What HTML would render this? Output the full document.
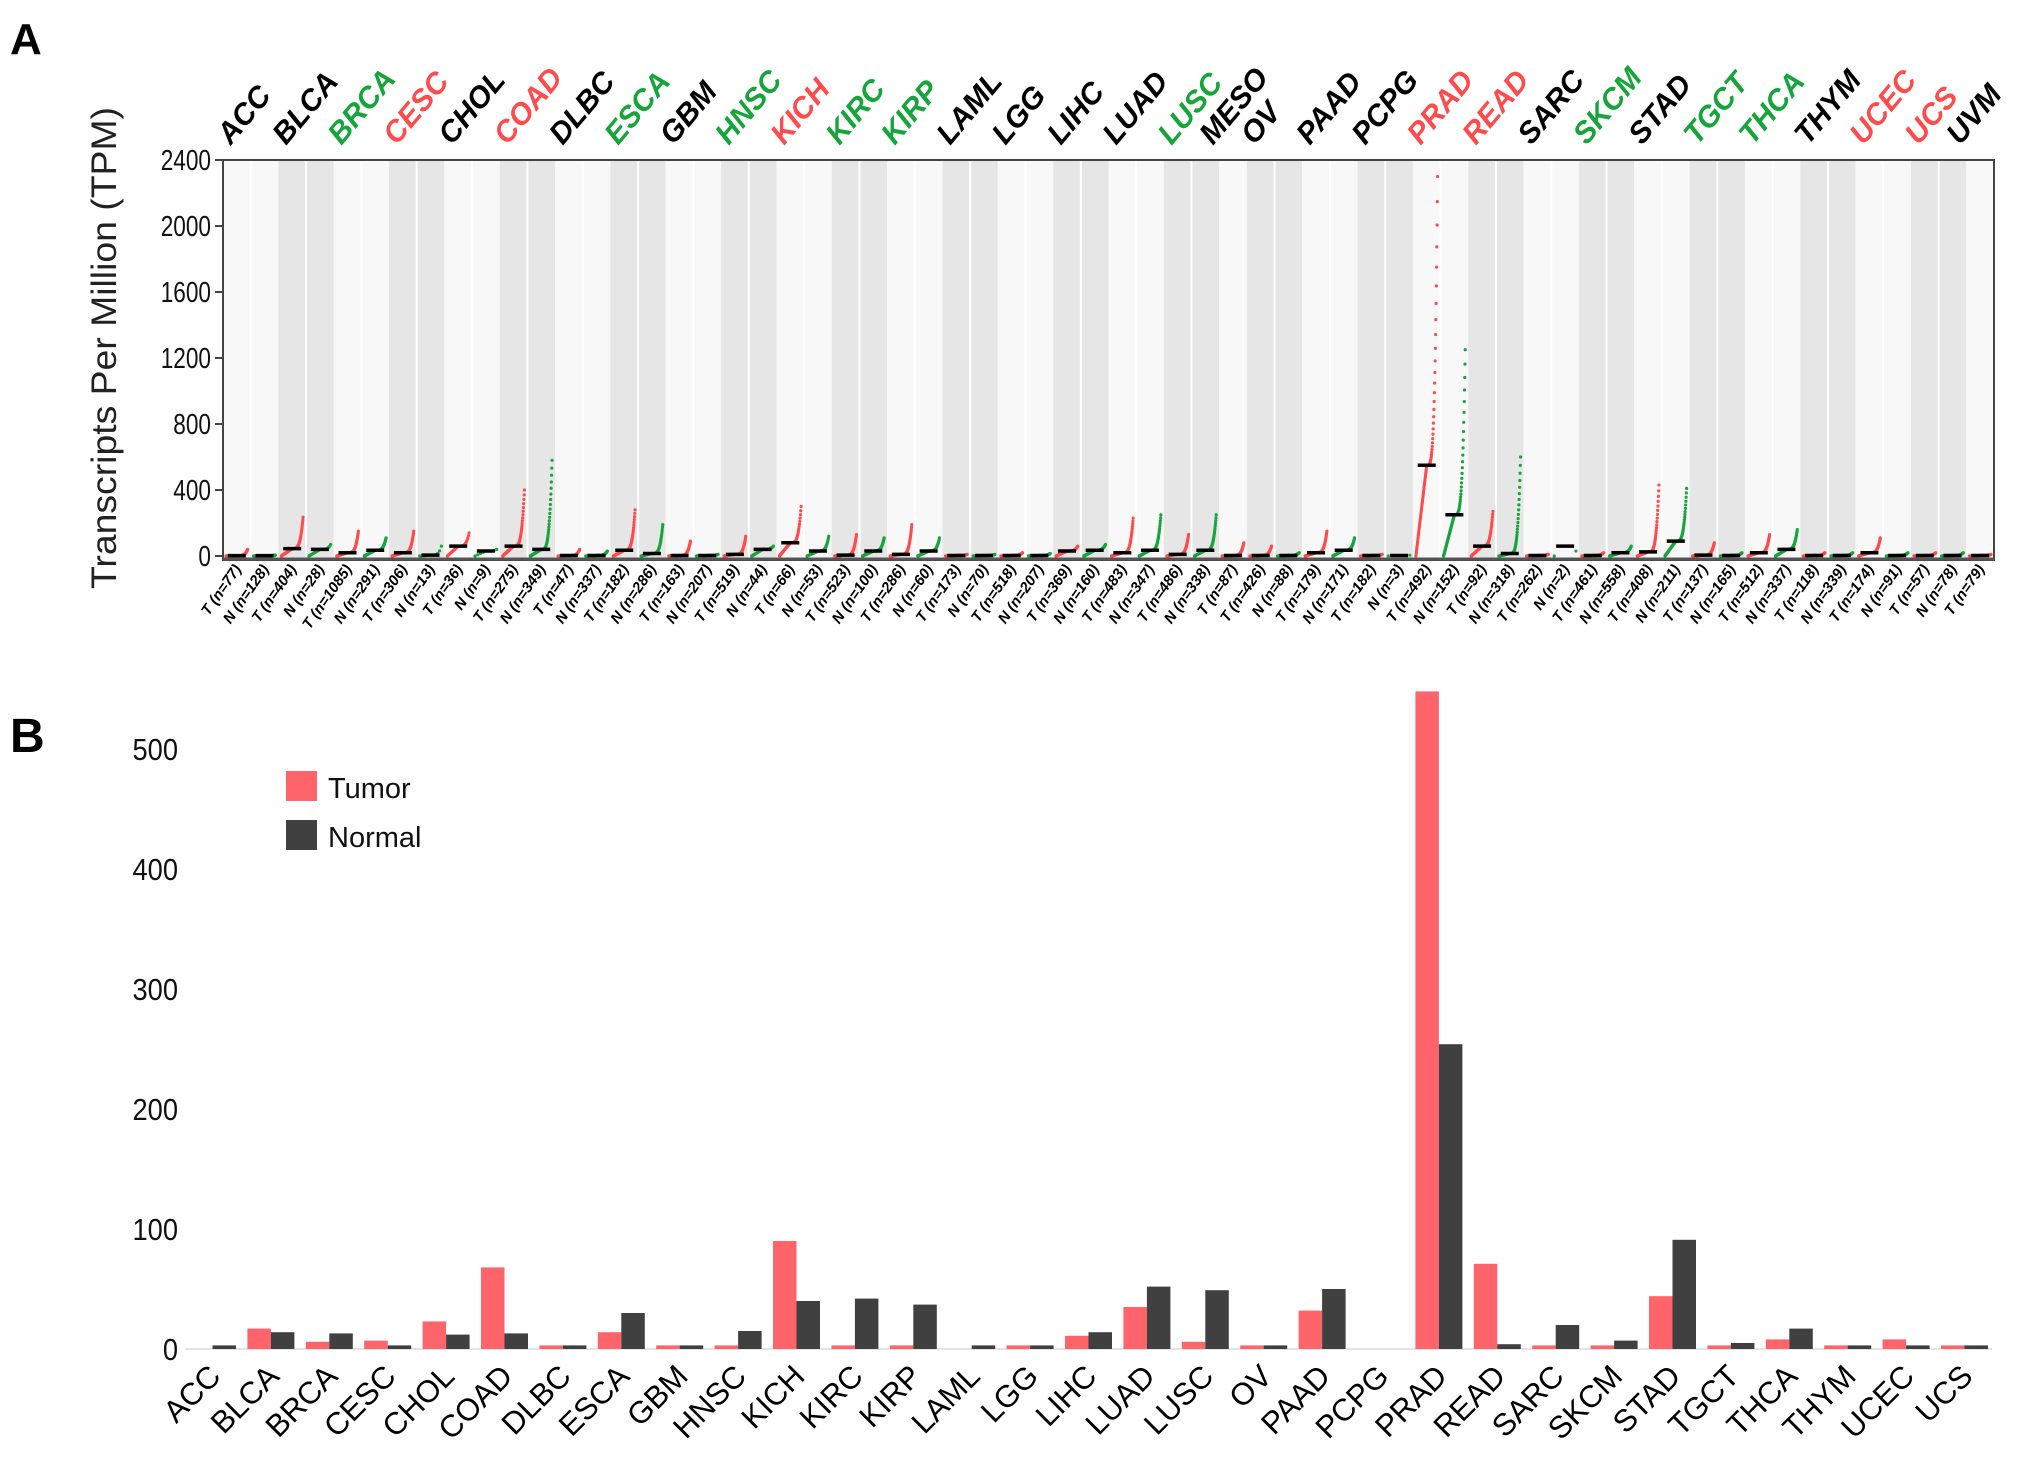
<!DOCTYPE html>
<html><head><meta charset="utf-8"><style>
html,body{margin:0;padding:0;background:#fff;}
svg{display:block;font-family:"Liberation Sans",sans-serif;}
</style></head><body>
<svg id="fig" width="2031" height="1468" viewBox="0 0 2031 1468" xmlns="http://www.w3.org/2000/svg">
<text x="10" y="54" font-size="44" font-weight="bold">A</text>
<text x="10" y="752" font-size="48" font-weight="bold">B</text>
<g id="pa"></g>
<g id="pb"></g>
</svg>
<script>
// ---------- Panel A data ----------
const cancersA = ["ACC","BLCA","BRCA","CESC","CHOL","COAD","DLBC","ESCA","GBM","HNSC","KICH","KIRC","KIRP","LAML","LGG","LIHC","LUAD","LUSC","MESO","OV","PAAD","PCPG","PRAD","READ","SARC","SKCM","STAD","TGCT","THCA","THYM","UCEC","UCS","UVM"];
const labelColorsA = ["k","k","g","r","k","r","k","g","k","g","r","g","g","k","k","k","k","g","k","k","k","k","r","r","k","g","k","g","g","k","r","r","k"];
const tumorN = [77,404,1085,306,36,275,47,182,163,519,66,523,286,173,518,369,483,486,87,426,179,182,492,92,262,461,408,137,512,118,174,57,79];
const normalN = [128,28,291,13,9,349,337,286,207,44,53,100,60,70,207,160,347,338,null,88,171,3,152,318,2,558,211,165,337,339,91,78,null];
const tumorMedian = [2,45,20,20,60,60,3,35,3,10,80,5,10,3,3,30,20,10,3,3,20,3,550,60,3,3,25,5,20,3,20,3,3];
const tumorMax = [40,235,150,150,140,400,40,280,90,120,300,130,190,10,20,60,230,130,80,60,150,10,2300,270,10,20,430,80,130,20,110,20,10];
const normalMedian = [2,40,35,5,30,40,3,15,3,40,30,30,30,3,3,35,35,35,null,3,35,3,250,15,60,20,90,3,40,3,3,3,null];
const normalMax = [5,70,110,60,40,580,30,190,10,60,120,110,110,10,15,70,250,250,null,20,110,5,1250,600,30,60,410,20,160,20,20,20,null];
const ticksA = [0,400,800,1200,1600,2000,2400];

// ---------- Panel B data ----------
const cancersB = ["ACC","BLCA","BRCA","CESC","CHOL","COAD","DLBC","ESCA","GBM","HNSC","KICH","KIRC","KIRP","LAML","LGG","LIHC","LUAD","LUSC","OV","PAAD","PCPG","PRAD","READ","SARC","SKCM","STAD","TGCT","THCA","THYM","UCEC","UCS"];
const tumorB = [0,17,6,7,23,68,3,14,3,3,90,3,3,0,3,11,35,6,3,32,0,548,71,3,3,44,3,8,3,8,3];
const normalB = [3,14,13,3,12,13,3,30,3,15,40,42,37,3,3,14,52,49,3,50,0,254,4,20,7,91,5,17,3,3,3];
const ticksB = [0,100,200,300,400,500];

const NS="http://www.w3.org/2000/svg";
function mk(tag,attrs,parent){const e=document.createElementNS(NS,tag);for(const k in attrs)e.setAttribute(k,attrs[k]);parent.appendChild(e);return e;}
const COL={r:"#ff4b4b",g:"#16a53a",k:"#000"};

// ---------- Panel A ----------
(function(){
const g=document.getElementById('pa');
const L=223,R=1994,T=160,Y0=556,B=560;
const y=v=>Y0-(v/2400)*(Y0-T);
const cols=[];
cancersA.forEach((c,i)=>{cols.push({c:i,t:'T'}); if(normalN[i]!==null)cols.push({c:i,t:'N'});});
const cw=(R-L)/cols.length;
let idx=0;
cancersA.forEach((c,i)=>{
  const n=normalN[i]!==null?2:1;
  const band=mk('rect',{x:L+idx*cw,y:T,width:n*cw,height:B-T,fill:i%2?"#e6e6e6":"#f8f8f8"},g);
  
  
  if(n===2){const sep=mk('line',{x1:L+(idx+1)*cw,x2:L+(idx+1)*cw,y1:T,y2:B,stroke:"#fff","stroke-width":2},g);
    }
  const cx=L+(idx+n/2)*cw;
  const lab=mk('text',{x:cx-20,y:146,transform:`rotate(-50 ${cx-20} 146)`,"font-size":30,"font-weight":"bold","font-style":"italic",fill:COL[labelColorsA[i]]},g);
  lab.textContent=c;
  
  
  idx+=n;
});
cols.forEach((col,j)=>{
  const i=col.c, isT=col.t==='T';
  const n=isT?tumorN[i]:normalN[i], med=isT?tumorMedian[i]:normalMedian[i], mx=isT?tumorMax[i]:normalMax[i];
  const x0=L+j*cw+3, w=cw-6;
  const np=Math.min(n,90);
  const pts=mk('g',{fill:isT?COL.r:COL.g},g);
  
  
  for(let k=0;k<np;k++){
    const q=np>1?k/(np-1):0.5;
    const v=q<0.5?med*q*2:med+(mx-med)*Math.pow((q-0.5)/0.5,4);
    mk('circle',{cx:x0+q*w,cy:y(v),r:1.6},pts);
  }
  const bar=mk('line',{x1:L+j*cw+cw/2-9,x2:L+j*cw+cw/2+9,y1:y(med),y2:y(med),stroke:"#000","stroke-width":3.5},g);
  
  
  const ax=L+j*cw+cw/2+5, ay=569;
  const t=mk('text',{x:ax,y:ay,transform:`rotate(-55 ${ax} ${ay})`,"text-anchor":"end","font-size":15,"font-weight":"bold","font-style":"italic",fill:"#000"},g);
  t.textContent=`${col.t} (n=${n})`;
  
  
});
const frame=mk('rect',{x:L,y:T,width:R-L,height:B-T,fill:"none",stroke:"#444","stroke-width":2},g);

const zl=mk('line',{x1:L,x2:R,y1:B-1,y2:B-1,stroke:"#555","stroke-width":3},g);

ticksA.forEach(v=>{
  const tk=mk('line',{x1:L-8,x2:L,y1:y(v),y2:y(v),stroke:"#444","stroke-width":2},g);
  
  const tl=mk('text',{x:L-12,y:y(v)+10,"text-anchor":"end","font-size":29,fill:"#111",transform:`scale(0.78 1)`,"transform-origin":`${L-12} ${y(v)}`},g);
  tl.textContent=v;
  
});
const yt=mk('text',{x:116,y:348,transform:"rotate(-90 116 348)","text-anchor":"middle","font-size":35,fill:"#222",textLength:482,lengthAdjust:"spacingAndGlyphs"},g);
yt.textContent="Transcripts Per Million (TPM)";

})();

// ---------- Panel B ----------
(function(){
const g=document.getElementById('pb');
const Y0=1349, per100=120, X0=189, pitch=58.4, bw=23.5;
const y=v=>Y0-v*per100/100;
const base=mk('line',{x1:185,x2:1992,y1:Y0,y2:Y0,stroke:"#e4e4e4","stroke-width":2},g);

ticksB.forEach(v=>{
  const tl=mk('text',{x:178,y:y(v)+11,"text-anchor":"end","font-size":31,fill:"#111",transform:"scale(0.88 1)","transform-origin":`178 ${y(v)}`},g);
  tl.textContent=v;
  
});
cancersB.forEach((c,i)=>{
  const x=X0+i*pitch;
  if(tumorB[i]>0){const r=mk('rect',{x:x,y:y(tumorB[i]),width:bw,height:Y0-y(tumorB[i]),fill:"#fe6469"},g);
    }
  if(normalB[i]>0){const r=mk('rect',{x:x+bw,y:y(normalB[i]),width:bw,height:Y0-y(normalB[i]),fill:"#404040"},g);
    }
  const ax=x+bw+10, ay=1378;
  const t=mk('text',{x:ax,y:ay,transform:`rotate(-45 ${ax} ${ay})`,"text-anchor":"end","font-size":31,fill:"#000"},g);
  t.textContent=c;
  
});
const lg=mk('g',{},g);

const s1=mk('rect',{x:286,y:771,width:31,height:30,fill:"#fe6469"},lg);

const t1=mk('text',{x:328,y:798,"font-size":29,fill:"#111"},lg);t1.textContent="Tumor";

const s2=mk('rect',{x:286,y:820,width:31,height:30,fill:"#404040"},lg);

const t2=mk('text',{x:328,y:847,"font-size":29,fill:"#111"},lg);t2.textContent="Normal";

})();
</script>
</body></html>
